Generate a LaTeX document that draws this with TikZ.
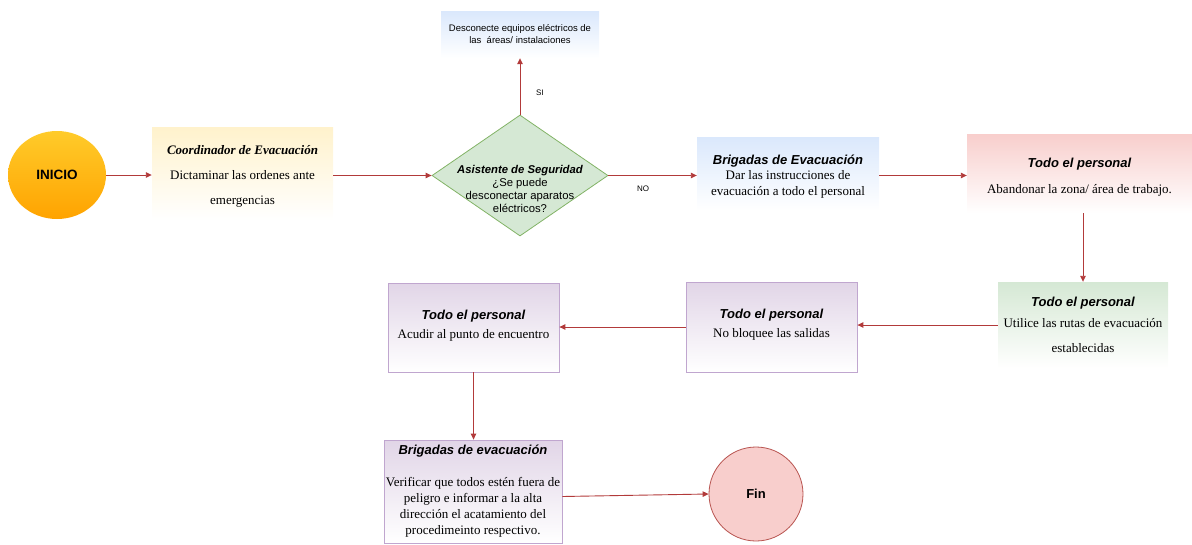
\documentclass[tikz,border=0pt]{standalone}
\usepackage{fontspec}
\setmainfont{Liberation Serif}
\setsansfont{Liberation Sans}
\usetikzlibrary{arrows.meta,shapes.geometric}

\definecolor{arrowred}{HTML}{B23A3A}
\definecolor{yellowtop}{HTML}{FFCB2A}
\definecolor{orangebot}{HTML}{FFA300}
\definecolor{creamtop}{HTML}{FFF2CC}
\definecolor{bluetop}{HTML}{DAE8FC}
\definecolor{redtop}{HTML}{F8CECC}
\definecolor{greentop}{HTML}{D5E8D4}
\definecolor{greenline}{HTML}{82B366}
\definecolor{purpletop}{HTML}{E1D5E7}
\definecolor{purpleline}{HTML}{C0A6CF}
\definecolor{finline}{HTML}{B85450}

\newcommand{\hdsans}{\sffamily\bfseries\itshape}

\tikzset{
  flow/.style={draw=arrowred, line width=0.9pt, -{Triangle[length=6pt,width=5.5pt]}},
  card/.style={rectangle, inner sep=0pt, align=center, font=\fontsize{13}{15.5}\selectfont},
  cardtext/.style={inner sep=0pt, align=center, font=\fontsize{13}{15.5}\selectfont},
  creambox/.style={card, top color=creamtop, bottom color=white},
  bluebox/.style={card, top color=bluetop, bottom color=white},
  redbox/.style={card, top color=redtop, bottom color=white},
  greenbox/.style={card, top color=greentop, bottom color=white},
  purplebox/.style={card, top color=purpletop, bottom color=white, draw=purpleline, line width=0.8pt},
  tag/.style={font=\sffamily\fontsize{8}{10}\selectfont, inner sep=0pt}
}

\begin{document}
\begin{tikzpicture}[x=1pt, y=-1pt]
\useasboundingbox (0,0) rectangle (1192,544);

% start
\node[ellipse, minimum width=98pt, minimum height=88pt, inner sep=0pt,
      top color=yellowtop, bottom color=orangebot,
      font=\sffamily\bfseries\fontsize{13.5}{15}\selectfont] (start) at (57,175) {INICIO};

% first row
\node[creambox, minimum width=181pt, minimum height=93pt] (coord) at (242.5,173.5) {};
\node[cardtext] (coordtext) at (242.5,176.5)
  {\textbf{\textit{Coordinador de Evacuación}}\\[9.5pt]
   Dictaminar las ordenes ante\\[9.5pt]
   emergencias};

\node[diamond, minimum width=176pt, minimum height=121pt, inner sep=0pt,
      fill=greentop, draw=greenline, line width=0.8pt] (dec) at (520,175.5) {};
\node[align=center, inner sep=0pt, font=\sffamily\fontsize{11.3}{13}\selectfont] (dectext) at (520,188.5)
  {{\bfseries\itshape Asistente de Seguridad}\\ ¿Se puede\\ desconectar aparatos\\ eléctricos?};

\node[bluebox, minimum width=158pt, minimum height=47pt,
      font=\sffamily\fontsize{9.5}{12}\selectfont] (unplug) at (520,34.5)
  {Desconecte equipos eléctricos de\\ las\ \ áreas/ instalaciones};

\node[bluebox, minimum width=182pt, minimum height=73pt] (brig) at (788,173.5) {};
\node[cardtext] (brigtext) at (788,176.5)
  {{\hdsans Brigadas de Evacuación}\\
   Dar las instrucciones de\\
   evacuación a todo el personal};

\node[redbox, minimum width=225pt, minimum height=79pt] (leave) at (1079.5,173.5) {};
\node[cardtext] (leavetext) at (1079.5,177.5)
  {{\hdsans Todo el personal}\\[10.5pt]
   Abandonar la zona/ área de trabajo.};

% second row
\node[greenbox, minimum width=170pt, minimum height=86pt] (routes) at (1083,325)
  {{\hdsans Todo el personal}\\[5pt]
   Utilice las rutas de evacuación\\[10pt]
   establecidas};

\node[purplebox, minimum width=171pt, minimum height=90pt] (exits) at (771.5,327)
  {{\hdsans Todo el personal}\\[3.5pt]
   No bloquee las salidas\\[-9pt]\mbox{}};

\node[purplebox, minimum width=171pt, minimum height=89pt] (meet) at (473.5,327.5)
  {{\hdsans Todo el personal}\\[3.5pt]
   Acudir al punto de encuentro\\[-9pt]\mbox{}};

% third row
\node[purplebox, minimum width=178pt, minimum height=103pt,
      font=\fontsize{13}{16}\selectfont] (verify) at (473,491.5)
  {{\hdsans Brigadas de evacuación}\\[16pt]
   Verificar que todos estén fuera de\\
   peligro e informar a la alta\\
   dirección el acatamiento del\\
   procedimeinto respectivo.};

\node[circle, minimum size=94pt, inner sep=0pt, fill=redtop, draw=finline, line width=0.8pt,
      font=\sffamily\bfseries\fontsize{13}{15}\selectfont] (fin) at (756,494) {Fin};

% branch labels
\node[tag] (yes) at (540,93) {SI};
\node[tag] (no) at (643,189) {NO};

% connectors
\draw[flow] (start.east) -- (start.east -| coord.west);
\draw[flow] (coord.east |- dec.west) -- (dec.west);
\draw[flow] (dec.north) -- (unplug.south);
\draw[flow] (dec.east) -- (dec.east -| brig.west);
\draw[flow] (brig.east |- dec.east) -- (leave.west |- dec.east);
\draw[flow] (routes.north |- leave.south) -- (routes.north);
\draw[flow] (routes.west) -- (routes.west -| exits.east);
\draw[flow] (exits.west) -- (exits.west -| meet.east);
\draw[flow] (meet.south) -- (meet.south |- verify.north);
\draw[flow] ([yshift=-5pt]verify.east) -- (fin.west);
\end{tikzpicture}
\end{document}
